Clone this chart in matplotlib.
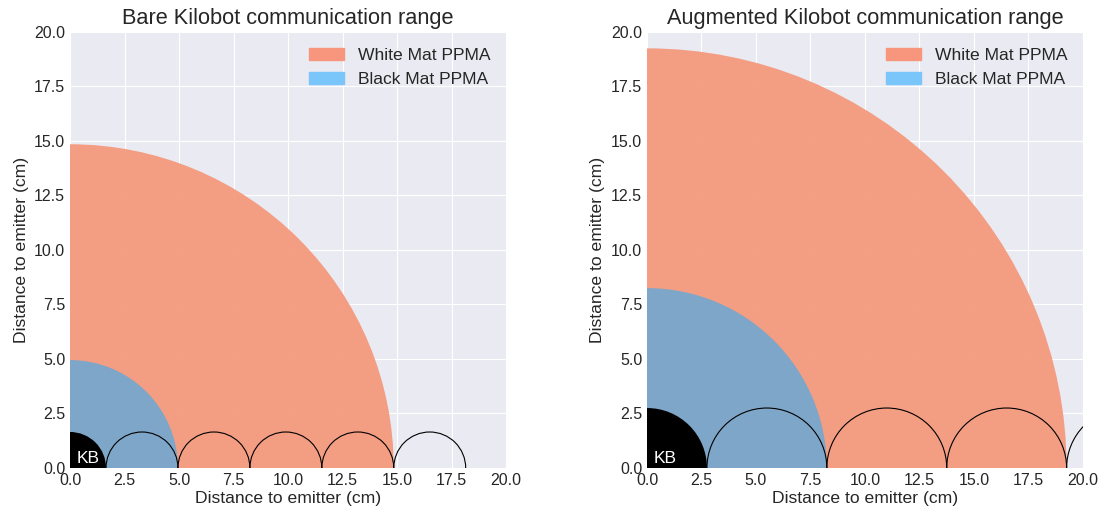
import matplotlib
matplotlib.use("Agg")
from matplotlib import pyplot as plt
from matplotlib.patches import Circle, Patch

titles = ["Bare Kilobot communication range", "Augmented Kilobot communication range"]
robot_radius = [1.65, 2.75]
black_mat_range = [4.95, 8.25]
white_mat_range = [14.85, 19.25]
neighbour_count = [5, 4]
legend_labels = ["White Mat PPMA", "Black Mat PPMA"]

plt.style.use("seaborn-v0_8-darkgrid")
plt.rcParams["font.family"] = ["Liberation Sans", "DejaVu Sans"]

fig = plt.figure(figsize=(11.04, 5.12), dpi=100)
axes = [fig.add_axes([0.0616, 0.086, 0.3986, 0.8515]),
        fig.add_axes([0.5842, 0.086, 0.3986, 0.8515])]

for ax, title, r, black_r, white_r, n in zip(axes, titles, robot_radius,
                                             black_mat_range, white_mat_range,
                                             neighbour_count):
    ax.add_patch(Circle((0, 0), white_r, color="#f4977b", alpha=0.93, lw=0, zorder=2))
    ax.add_patch(Circle((0, 0), black_r, color="#7ea6c8", lw=0, zorder=3))
    ax.add_patch(Circle((0, 0), r, color="black", lw=0, zorder=4))
    for i in range(1, n + 1):
        ax.add_patch(Circle((2 * r * i, 0), r, fill=False, ec="black", lw=0.8, zorder=5))
    ax.text(0.3, 0.25, "KB", color="white", fontsize=12.5, zorder=6)
    ax.set_xlim(0, 20)
    ax.set_ylim(0, 20)
    ax.set_aspect("equal")
    ax.set_xticks([0, 2.5, 5, 7.5, 10, 12.5, 15, 17.5, 20])
    ax.set_yticks([0, 2.5, 5, 7.5, 10, 12.5, 15, 17.5, 20])
    ax.tick_params(labelsize=11.5)
    ax.set_title(title, fontsize=15.7)
    ax.set_xlabel("Distance to emitter (cm)", fontsize=12.6, labelpad=2)
    ax.set_ylabel("Distance to emitter (cm)", fontsize=12.6)
    handles = [Patch(color="#f7967c"), Patch(color="#7ac6fa")]
    ax.legend(handles, legend_labels, fontsize=12.6, loc="upper right")

fig.savefig("out.png", dpi=100)
